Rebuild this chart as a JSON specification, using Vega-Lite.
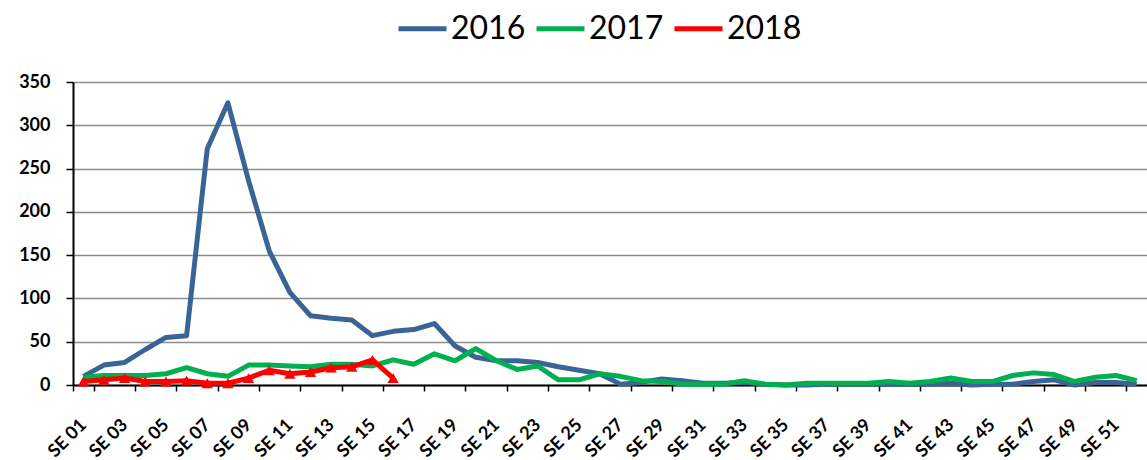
{
  "$schema": "https://vega.github.io/schema/vega-lite/v6.json",
  "width": 1074,
  "height": 303,
  "autosize": {"type": "none"},
  "padding": {"left": 73, "top": 82, "right": 0, "bottom": 75},
  "background": "white",
  "config": {
    "view": {"stroke": null},
    "font": "Lato"
  },
  "data": {
    "values": [
      {"week": "SE 01", "year": "2016", "value": 10}, {"week": "SE 02", "year": "2016", "value": 23}, {"week": "SE 03", "year": "2016", "value": 26}, {"week": "SE 04", "year": "2016", "value": 41}, {"week": "SE 05", "year": "2016", "value": 55}, {"week": "SE 06", "year": "2016", "value": 57}, {"week": "SE 07", "year": "2016", "value": 273}, {"week": "SE 08", "year": "2016", "value": 326}, {"week": "SE 09", "year": "2016", "value": 236}, {"week": "SE 10", "year": "2016", "value": 155}, {"week": "SE 11", "year": "2016", "value": 107}, {"week": "SE 12", "year": "2016", "value": 80}, {"week": "SE 13", "year": "2016", "value": 77}, {"week": "SE 14", "year": "2016", "value": 75}, {"week": "SE 15", "year": "2016", "value": 57}, {"week": "SE 16", "year": "2016", "value": 62}, {"week": "SE 17", "year": "2016", "value": 64}, {"week": "SE 18", "year": "2016", "value": 71}, {"week": "SE 19", "year": "2016", "value": 45}, {"week": "SE 20", "year": "2016", "value": 32}, {"week": "SE 21", "year": "2016", "value": 28}, {"week": "SE 22", "year": "2016", "value": 28}, {"week": "SE 23", "year": "2016", "value": 26}, {"week": "SE 24", "year": "2016", "value": 21}, {"week": "SE 25", "year": "2016", "value": 17}, {"week": "SE 26", "year": "2016", "value": 13}, {"week": "SE 27", "year": "2016", "value": 1}, {"week": "SE 28", "year": "2016", "value": 3}, {"week": "SE 29", "year": "2016", "value": 7}, {"week": "SE 30", "year": "2016", "value": 5}, {"week": "SE 31", "year": "2016", "value": 2}, {"week": "SE 32", "year": "2016", "value": 2}, {"week": "SE 33", "year": "2016", "value": 3}, {"week": "SE 34", "year": "2016", "value": 1}, {"week": "SE 35", "year": "2016", "value": 0}, {"week": "SE 36", "year": "2016", "value": 0}, {"week": "SE 37", "year": "2016", "value": 1}, {"week": "SE 38", "year": "2016", "value": 1}, {"week": "SE 39", "year": "2016", "value": 1}, {"week": "SE 40", "year": "2016", "value": 1}, {"week": "SE 41", "year": "2016", "value": 1}, {"week": "SE 42", "year": "2016", "value": 1}, {"week": "SE 43", "year": "2016", "value": 2}, {"week": "SE 44", "year": "2016", "value": 0}, {"week": "SE 45", "year": "2016", "value": 1}, {"week": "SE 46", "year": "2016", "value": 1}, {"week": "SE 47", "year": "2016", "value": 4}, {"week": "SE 48", "year": "2016", "value": 6}, {"week": "SE 49", "year": "2016", "value": 0}, {"week": "SE 50", "year": "2016", "value": 3}, {"week": "SE 51", "year": "2016", "value": 3}, {"week": "SE 52", "year": "2016", "value": 1},
      {"week": "SE 01", "year": "2017", "value": 9}, {"week": "SE 02", "year": "2017", "value": 11}, {"week": "SE 03", "year": "2017", "value": 11}, {"week": "SE 04", "year": "2017", "value": 11}, {"week": "SE 05", "year": "2017", "value": 13}, {"week": "SE 06", "year": "2017", "value": 20}, {"week": "SE 07", "year": "2017", "value": 13}, {"week": "SE 08", "year": "2017", "value": 10}, {"week": "SE 09", "year": "2017", "value": 23}, {"week": "SE 10", "year": "2017", "value": 23}, {"week": "SE 11", "year": "2017", "value": 22}, {"week": "SE 12", "year": "2017", "value": 21}, {"week": "SE 13", "year": "2017", "value": 24}, {"week": "SE 14", "year": "2017", "value": 24}, {"week": "SE 15", "year": "2017", "value": 22}, {"week": "SE 16", "year": "2017", "value": 29}, {"week": "SE 17", "year": "2017", "value": 24}, {"week": "SE 18", "year": "2017", "value": 36}, {"week": "SE 19", "year": "2017", "value": 28}, {"week": "SE 20", "year": "2017", "value": 42}, {"week": "SE 21", "year": "2017", "value": 28}, {"week": "SE 22", "year": "2017", "value": 18}, {"week": "SE 23", "year": "2017", "value": 22}, {"week": "SE 24", "year": "2017", "value": 6}, {"week": "SE 25", "year": "2017", "value": 6}, {"week": "SE 26", "year": "2017", "value": 13}, {"week": "SE 27", "year": "2017", "value": 10}, {"week": "SE 28", "year": "2017", "value": 5}, {"week": "SE 29", "year": "2017", "value": 4}, {"week": "SE 30", "year": "2017", "value": 1}, {"week": "SE 31", "year": "2017", "value": 1}, {"week": "SE 32", "year": "2017", "value": 1}, {"week": "SE 33", "year": "2017", "value": 5}, {"week": "SE 34", "year": "2017", "value": 1}, {"week": "SE 35", "year": "2017", "value": 0}, {"week": "SE 36", "year": "2017", "value": 2}, {"week": "SE 37", "year": "2017", "value": 2}, {"week": "SE 38", "year": "2017", "value": 2}, {"week": "SE 39", "year": "2017", "value": 2}, {"week": "SE 40", "year": "2017", "value": 4}, {"week": "SE 41", "year": "2017", "value": 2}, {"week": "SE 42", "year": "2017", "value": 4}, {"week": "SE 43", "year": "2017", "value": 8}, {"week": "SE 44", "year": "2017", "value": 4}, {"week": "SE 45", "year": "2017", "value": 4}, {"week": "SE 46", "year": "2017", "value": 11}, {"week": "SE 47", "year": "2017", "value": 14}, {"week": "SE 48", "year": "2017", "value": 12}, {"week": "SE 49", "year": "2017", "value": 4}, {"week": "SE 50", "year": "2017", "value": 9}, {"week": "SE 51", "year": "2017", "value": 11}, {"week": "SE 52", "year": "2017", "value": 5},
      {"week": "SE 01", "year": "2018", "value": 4}, {"week": "SE 02", "year": "2018", "value": 6}, {"week": "SE 03", "year": "2018", "value": 8}, {"week": "SE 04", "year": "2018", "value": 4}, {"week": "SE 05", "year": "2018", "value": 4}, {"week": "SE 06", "year": "2018", "value": 5}, {"week": "SE 07", "year": "2018", "value": 2}, {"week": "SE 08", "year": "2018", "value": 2}, {"week": "SE 09", "year": "2018", "value": 8}, {"week": "SE 10", "year": "2018", "value": 17}, {"week": "SE 11", "year": "2018", "value": 13}, {"week": "SE 12", "year": "2018", "value": 15}, {"week": "SE 13", "year": "2018", "value": 20}, {"week": "SE 14", "year": "2018", "value": 21}, {"week": "SE 15", "year": "2018", "value": 29}, {"week": "SE 16", "year": "2018", "value": 8}
    ]
  },
  "encoding": {
    "x": {
      "field": "week",
      "type": "nominal",
      "bandPosition": 0.5,
      "scale": {"type": "band", "paddingInner": 0, "paddingOuter": 0},
      "axis": {
        "title": null,
        "values": ["SE 01", "SE 03", "SE 05", "SE 07", "SE 09", "SE 11", "SE 13", "SE 15", "SE 17", "SE 19", "SE 21", "SE 23", "SE 25", "SE 27", "SE 29", "SE 31", "SE 33", "SE 35", "SE 37", "SE 39", "SE 41", "SE 43", "SE 45", "SE 47", "SE 49", "SE 51"],
        "tickBand": "extent",
        "labelAngle": -45,
        "labelAlign": "right",
        "labelBaseline": "middle",
        "labelFontSize": 18,
        "labelFontWeight": "bold",
        "labelColor": "black",
        "labelPadding": 31,
        "labelOffset": 0,
        "domainColor": "black",
        "domainWidth": 2,
        "tickColor": "black",
        "tickWidth": 1.5,
        "tickSize": 6,
        "grid": false
      }
    },
    "y": {
      "field": "value",
      "type": "quantitative",
      "scale": {"domain": [0, 350], "nice": false},
      "axis": {
        "title": null,
        "values": [0, 50, 100, 150, 200, 250, 300, 350],
        "labelFontSize": 18,
        "labelFontWeight": "bold",
        "labelColor": "black",
        "labelPadding": 16,
        "domainColor": "black",
        "domainWidth": 2,
        "tickColor": "black",
        "tickWidth": 1.5,
        "tickSize": 7,
        "grid": true,
        "gridColor": "#8c8c8c",
        "gridWidth": 1.5
      }
    },
    "color": {
      "field": "year",
      "type": "nominal",
      "scale": {"domain": ["2016", "2017", "2018"], "range": ["#3B6496", "#00B050", "#FF0000"]},
      "legend": {
        "title": null,
        "orient": "none",
        "direction": "horizontal",
        "legendX": 323,
        "legendY": -80,
        "symbolType": "stroke",
        "symbolSize": 2304,
        "symbolStrokeWidth": 5,
        "labelFontSize": 32,
        "labelFont": "Lato",
        "labelColor": "black",
        "labelOffset": 2,
        "columnPadding": 0
      }
    }
  },
  "layer": [
    {"mark": {"type": "line", "strokeWidth": 5, "strokeJoin": "round"}},
    {
      "transform": [{"filter": "datum.year == '2018'"}],
      "mark": {"type": "point", "shape": "triangle-up", "filled": true, "size": 130, "opacity": 1},
      "encoding": {"color": {"value": "#FF0000"}}
    }
  ]
}
